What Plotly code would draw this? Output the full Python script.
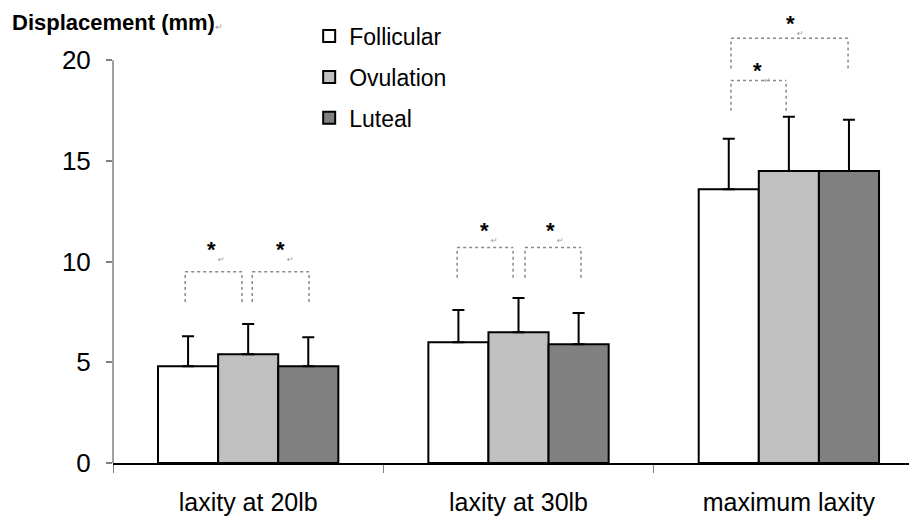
import plotly.graph_objects as go

categories = ["laxity at 20lb", "laxity at 30lb", "maximum laxity"]
phases = ["Follicular", "Ovulation", "Luteal"]
follicular = [4.8, 6.0, 13.6]
follicular_sd = [1.5, 1.6, 2.5]
ovulation = [5.4, 6.5, 14.5]
ovulation_sd = [1.5, 1.7, 2.7]
luteal = [4.8, 5.9, 14.5]
luteal_sd = [1.45, 1.55, 2.55]
colors = ["#FFFFFF", "#C0C0C0", "#808080"]
y_ticks = [0, 5, 10, 15, 20]

# significance brackets: (category index, left offset, right offset, leg bottom, top)
brackets = [
    (0, -0.233, -0.023, 8.0, 9.5),
    (0, 0.015, 0.225, 8.0, 9.5),
    (1, -0.227, -0.020, 9.2, 10.7),
    (1, 0.024, 0.231, 9.2, 10.7),
    (2, -0.214, 0.219, 19.6, 21.1),
    (2, -0.214, -0.010, 17.5, 19.0),
]
# stars: (category index, offset, y)
stars = [
    (0, -0.134, 10.6),
    (0, 0.118, 10.6),
    (1, -0.124, 11.55),
    (1, 0.120, 11.55),
    (2, 0.005, 21.85),
    (2, -0.117, 19.5),
]

FONT = "Liberation Sans, Arial, sans-serif"

fig = go.Figure()
for name, vals, sds, col in zip(phases, [follicular, ovulation, luteal],
                                [follicular_sd, ovulation_sd, luteal_sd], colors):
    fig.add_trace(go.Bar(
        name=name, x=categories, y=vals, legendgroup=name,
        marker=dict(color=col, line=dict(color="black", width=2)),
        error_y=dict(type="data", array=sds, arrayminus=[0] * len(sds),
                     symmetric=False, color="black", thickness=2, width=6),
    ))

shapes = [dict(type="line", xref="paper", yref="y", x0=0, x1=0, y0=0, y1=20,
               line=dict(color="#808080", width=1.5))]
dot = dict(color="#8a8a8a", width=1.5, dash="dot")
for ci, l, r, b, t in brackets:
    shapes.append(dict(type="line", xref="x", yref="y", x0=ci + l, x1=ci + l, y0=b, y1=t, line=dot))
    shapes.append(dict(type="line", xref="x", yref="y", x0=ci + r, x1=ci + r, y0=b, y1=t, line=dot))
    shapes.append(dict(type="line", xref="x", yref="y", x0=ci + l, x1=ci + r, y0=t, y1=t, line=dot))

annotations = [dict(
    text="Displacement (mm)<span style='font-size:9px;color:#999999;font-weight:normal'>↵</span>",
    xref="paper", yref="paper", x=-0.128, y=1.0044, xanchor="left", yanchor="top",
    showarrow=False, font=dict(family=FONT, size=22, color="black", weight="bold"))]
for ci, off, yv in stars:
    annotations.append(dict(text="<b>*</b>", xref="x", yref="y", x=ci + off, y=yv,
                            showarrow=False, font=dict(family=FONT, size=22, color="black")))
    annotations.append(dict(text="↵", xref="x", yref="y", x=ci + off, y=yv,
                            xshift=10, yshift=-10, showarrow=False,
                            font=dict(family="DejaVu Sans", size=8, color="#999999")))

fig.update_layout(
    width=917, height=519,
    margin=dict(l=105, r=8, t=2, b=64),
    paper_bgcolor="white", plot_bgcolor="white",
    barmode="group", bargap=0.333, bargroupgap=0,
    font=dict(family=FONT, color="black"),
    showlegend=True,
    legend=dict(x=0.244, y=0.990, xanchor="left", yanchor="top",
                font=dict(family=FONT, size=23, color="black"),
                bgcolor="rgba(0,0,0,0)", tracegroupgap=8),
    xaxis=dict(type="category", range=[-0.5, 2.474], showline=True, linecolor="black",
               linewidth=2, ticks="outside", tickson="boundaries", ticklen=8,
               tickcolor="#808080", tickwidth=1, showgrid=False,
               tickfont=dict(family=FONT, size=25, color="black"), ticklabelstandoff=16),
    yaxis=dict(range=[0, 22.5], tickvals=y_ticks, ticks="outside", ticklen=6,
               tickcolor="#808080", tickwidth=1.5, showgrid=False, zeroline=False,
               showline=False, tickfont=dict(family=FONT, size=26, color="black"),
               ticklabelstandoff=10),
    shapes=shapes, annotations=annotations,
)

fig.write_html("out.html")
